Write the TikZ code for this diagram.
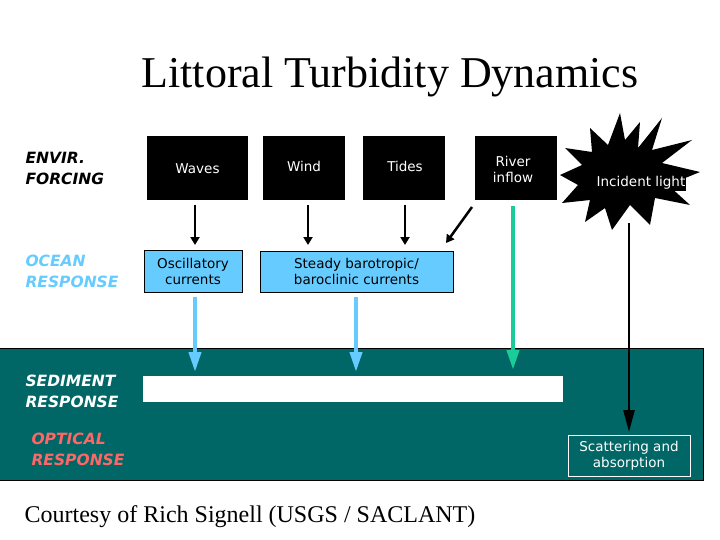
\documentclass[tikz,border=0pt]{standalone}
\usepackage{fontspec}
\newfontfamily\sansf{DejaVu Sans}
\newfontfamily\serf{Liberation Serif}
\usetikzlibrary{arrows.meta}
\definecolor{teal1}{HTML}{006666}
\definecolor{lblue}{HTML}{66CCFF}
\definecolor{green1}{HTML}{1ACC99}
\definecolor{pinkr}{HTML}{FF6666}
\begin{document}
\begin{tikzpicture}[x=1pt,y=-1pt,
  tf/.style={font=\sansf\fontsize{13.5}{16}\selectfont},
  blk/.style={fill=black,inner sep=0},
  bbox/.style={draw=black,line width=1pt,fill=lblue,tf,align=center,inner sep=0},
  lab/.style={anchor=west,font=\sansf\bfseries\itshape\fontsize{15.5}{21}\selectfont,align=left},
  barr/.style={line width=2.5pt,-{Triangle[length=8pt,width=9pt]}},
  larr/.style={draw=lblue,line width=4pt,-{Triangle[length=20pt,width=12pt]}}]
\useasboundingbox (0,0) rectangle (720,540);
\node (title) at (390,77) {\serf\fontsize{44}{50}\selectfont Littoral Turbidity Dynamics};
\node[lab] (envir) at (22,168) {ENVIR.\\FORCING};
\node[lab,text=lblue] (ocean) at (22,271) {OCEAN\\RESPONSE};
% black boxes
\node[blk,minimum width=101pt,minimum height=64pt] (waves) at (197.5,168) {};
\node[tf,text=white] (wavest) at (197.5,169) {Waves};
\node[blk,minimum width=82pt,minimum height=64pt] (wind) at (304,168) {};
\node[tf,text=white] (windt) at (304,166) {Wind};
\node[blk,minimum width=82pt,minimum height=64pt] (tides) at (404,168) {};
\node[tf,text=white] (tidest) at (405,166) {Tides};
\node[blk,minimum width=82pt,minimum height=64pt] (river) at (516,168) {};
\node[tf,text=white,align=center] (rivert) at (513,169) {River\\inflow};
% starburst
\fill (620,113) -- (625,140) -- (640,122) -- (638,148) -- (662,118) -- (652,150) -- (692,140) -- (662,163) -- (700,172)
  -- (668,185) -- (690,205) -- (655,198) -- (650,225) -- (630,205) -- (612,230) -- (605,208) -- (585,222) -- (590,200)
  -- (562,203) -- (578,185) -- (560,175) -- (582,165) -- (565,148) -- (592,152) -- (590,128) -- (608,145) -- cycle;
\node[fill=black,text=white,tf,inner sep=1pt] (light) at (641,183) {Incident light};
% ocean boxes
\node[bbox,minimum width=98pt,minimum height=42pt] (osc) at (193,271) {Oscillatory\\currents};
\node[bbox,minimum width=193pt,minimum height=41pt] (steady) at (356.5,271.5) {Steady barotropic/\\baroclinic currents};
% teal band
\node[fill=teal1,draw=black,line width=1pt,minimum width=704pt,minimum height=132pt,inner sep=0] (band) at (351.5,414) {};
\node[fill=white,minimum width=420pt,minimum height=26pt,inner sep=0] (bar) at (353,389) {};
\node[lab,text=white] (sed) at (22,391) {SEDIMENT\\RESPONSE};
\node[lab,text=pinkr] (opt) at (28,449) {OPTICAL\\RESPONSE};
\node[draw=white,line width=1pt,fill=teal1,text=white,tf,align=center,minimum width=122pt,minimum height=41pt,inner sep=0] (scat) at (629,455.5) {Scattering and\\absorption};
% arrows
\coordinate (a1) at (195,205); \coordinate (b1) at (195,245);
\coordinate (a2) at (308,205); \coordinate (b2) at (308,245);
\coordinate (a3) at (405,205); \coordinate (b3) at (405,245);
\coordinate (a4) at (472,207); \coordinate (b4) at (446,243);
\coordinate (c1) at (195,297); \coordinate (d1) at (195,372);
\coordinate (c2) at (356,297); \coordinate (d2) at (356,372);
\coordinate (c3) at (513,206); \coordinate (d3) at (513,370);
\coordinate (c4) at (629,223); \coordinate (d4) at (629,432);
\draw[barr] (a1) -- (b1);
\draw[barr] (a2) -- (b2);
\draw[barr] (a3) -- (b3);
\draw[barr] (a4) -- (b4);
\draw[larr] (c1) -- (d1);
\draw[larr] (c2) -- (d2);
\draw[draw=green1,line width=4pt,-{Triangle[length=20pt,width=12pt]}] (c3) -- (d3);
\draw[line width=2.5pt,-{Triangle[length=22pt,width=11pt]}] (c4) -- (d4);
\node[font=\serf\fontsize{24}{28}\selectfont] (court) at (250,517) {Courtesy of Rich Signell (USGS / SACLANT)};
\end{tikzpicture}
\end{document}
